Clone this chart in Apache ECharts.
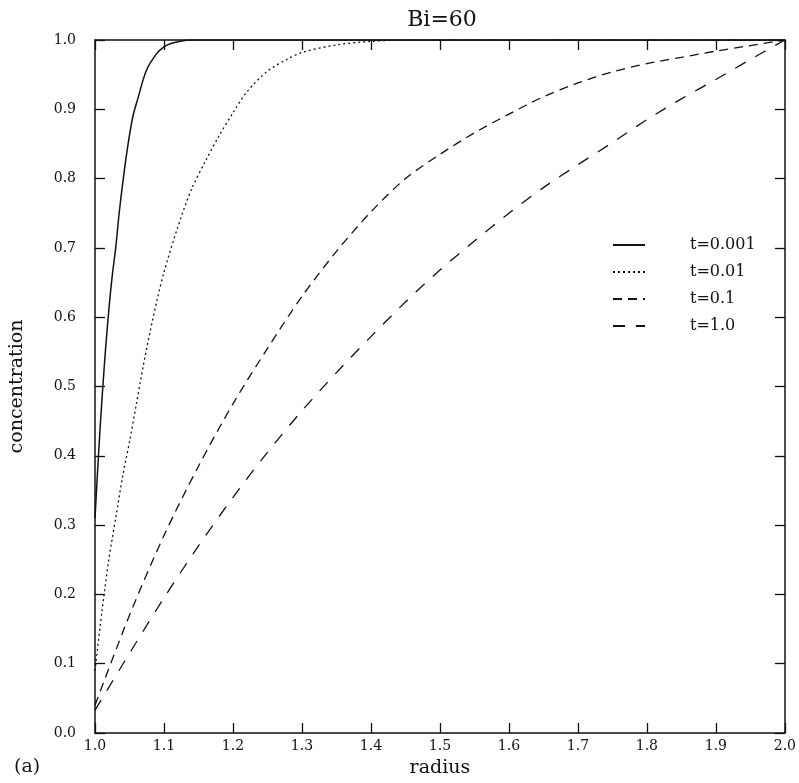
<!DOCTYPE html>
<html><head><meta charset="utf-8">
<script src="https://cdn.jsdelivr.net/npm/echarts@6/dist/echarts.min.js"></script>
<style>html,body{margin:0;padding:0;background:#fff}#c{width:799px;height:783px}</style>
</head><body><div id="c"></div>
<script>
const xTicks = [1.0,1.1,1.2,1.3,1.4,1.5,1.6,1.7,1.8,1.9,2.0];
const yTicks = [0.0,0.1,0.2,0.3,0.4,0.5,0.6,0.7,0.8,0.9,1.0];
const seriesNames = ['t=0.001','t=0.01','t=0.1','t=1.0'];

const r001 = [1.0,1.005,1.01,1.015,1.02,1.025,1.03,1.035,1.041,1.048,1.055,1.062,1.074,1.089,1.10,1.11,1.122,1.14,1.16,1.2,1.5,2.0];
const c001 = [0.31,0.40,0.48,0.55,0.61,0.66,0.70,0.75,0.80,0.85,0.89,0.915,0.955,0.98,0.99,0.995,0.998,1.0,1.0,1.0,1.0,1.0];

const r01 = [1.0,1.01,1.02,1.03,1.04,1.05,1.06,1.07,1.08,1.09,1.10,1.12,1.14,1.16,1.18,1.20,1.22,1.25,1.28,1.30,1.35,1.40,1.45,1.6,2.0];
const c01 = [0.09,0.175,0.25,0.31,0.37,0.42,0.475,0.53,0.58,0.625,0.665,0.73,0.785,0.825,0.862,0.895,0.925,0.955,0.973,0.982,0.993,0.998,1.0,1.0,1.0];

const r1 = [1.0,1.05,1.1,1.15,1.2,1.25,1.3,1.35,1.4,1.45,1.5,1.55,1.6,1.65,1.7,1.75,1.8,1.85,1.9,1.95,2.0];
const c1 = [0.04,0.17,0.285,0.385,0.475,0.555,0.63,0.695,0.752,0.80,0.835,0.866,0.893,0.918,0.938,0.954,0.966,0.975,0.984,0.992,1.0];

const r10 = [1.0,1.05,1.1,1.15,1.2,1.25,1.3,1.35,1.4,1.45,1.5,1.55,1.6,1.65,1.7,1.75,1.8,1.85,1.9,1.95,2.0];
const c10 = [0.033,0.115,0.195,0.27,0.34,0.405,0.465,0.52,0.572,0.622,0.668,0.71,0.75,0.787,0.82,0.852,0.885,0.915,0.943,0.972,1.0];

const zip = (a,b) => a.map((v,i)=>[v,b[i]]);
const serif = '"DejaVu Serif", "Liberation Serif", serif';

const chart = echarts.init(document.getElementById('c'), null, {renderer:'canvas'});
const axisLineStyle = {color:'#111', width:1.5};
function mkX(pos, show){
  return {type:'value', min:1, max:2, interval:0.1, position:pos,
    name: show ? 'radius' : '', nameLocation:'middle', nameGap:26,
    nameTextStyle:{fontFamily:serif, fontSize:19, color:'#111'},
    axisLine:{show:true, onZero:false, lineStyle:axisLineStyle},
    axisTick:{show:true, inside:true, length:10, lineStyle:{color:'#111', width:1.3}},
    axisLabel:{show:show, margin:6, fontFamily:serif, fontSize:14, color:'#111',
      formatter: v => { const t = xTicks.find(k=>Math.abs(k-v)<1e-6); return t===undefined?'':t.toFixed(1); }},
    splitLine:{show:false}};
}
function mkY(pos, show){
  return {type:'value', min:0, max:1, interval:0.1, position:pos,
    name: show ? 'concentration' : '', nameLocation:'middle', nameGap:68, nameRotate:90,
    nameTextStyle:{fontFamily:serif, fontSize:19, color:'#111'},
    axisLine:{show:true, onZero:false, lineStyle:axisLineStyle},
    axisTick:{show:true, inside:true, length:10, lineStyle:{color:'#111', width:1.3}},
    axisLabel:{show:show, margin:19, fontFamily:serif, fontSize:14, color:'#111',
      formatter: v => { const t = yTicks.find(k=>Math.abs(k-v)<1e-6); return t===undefined?'':t.toFixed(1); }},
    splitLine:{show:false}};
}
const styles = [
  {type:'solid', width:1.5},
  {type:[2,3], width:1.3},
  {type:[9,6], width:1.3},
  {type:[12,11], width:1.3}
];
const datas = [zip(r001,c001), zip(r01,c01), zip(r1,c1), zip(r10,c10)];
chart.setOption({
  animation:false,
  backgroundColor:'#fff',
  title:{text:'Bi=60', left:437, textAlign:'center', top:4,
    textStyle:{fontFamily:serif, fontSize:22, fontWeight:'normal', color:'#111'}},
  grid:{left:95, top:40, width:695, height:697, containLabel:false},
  legend:{show:true, orient:'vertical', left:607, top:232, itemWidth:32, itemHeight:14, itemGap:11,
    itemStyle:{color:'rgba(0,0,0,0)', borderWidth:0, opacity:0},
    textStyle:{fontFamily:serif, fontSize:16, color:'#111', padding:[0,0,0,40]},
    data: seriesNames},
  xAxis:[mkX('bottom', true), mkX('top', false)],
  yAxis:[mkY('left', true), mkY('right', false)],
  graphic:[{type:'text', left:14, top:758, style:{text:'(a)', font:'19px '+serif, fill:'#111'}}],
  series: seriesNames.map((n,i)=>({
    name:n, type:'line', xAxisIndex:0, yAxisIndex:0, data:datas[i], smooth:0.3,
    symbol:'none', showSymbol:false, lineStyle:Object.assign({color:'#111'}, styles[i]),
    itemStyle:{color:'#111'}
  }))
});
</script></body></html>
